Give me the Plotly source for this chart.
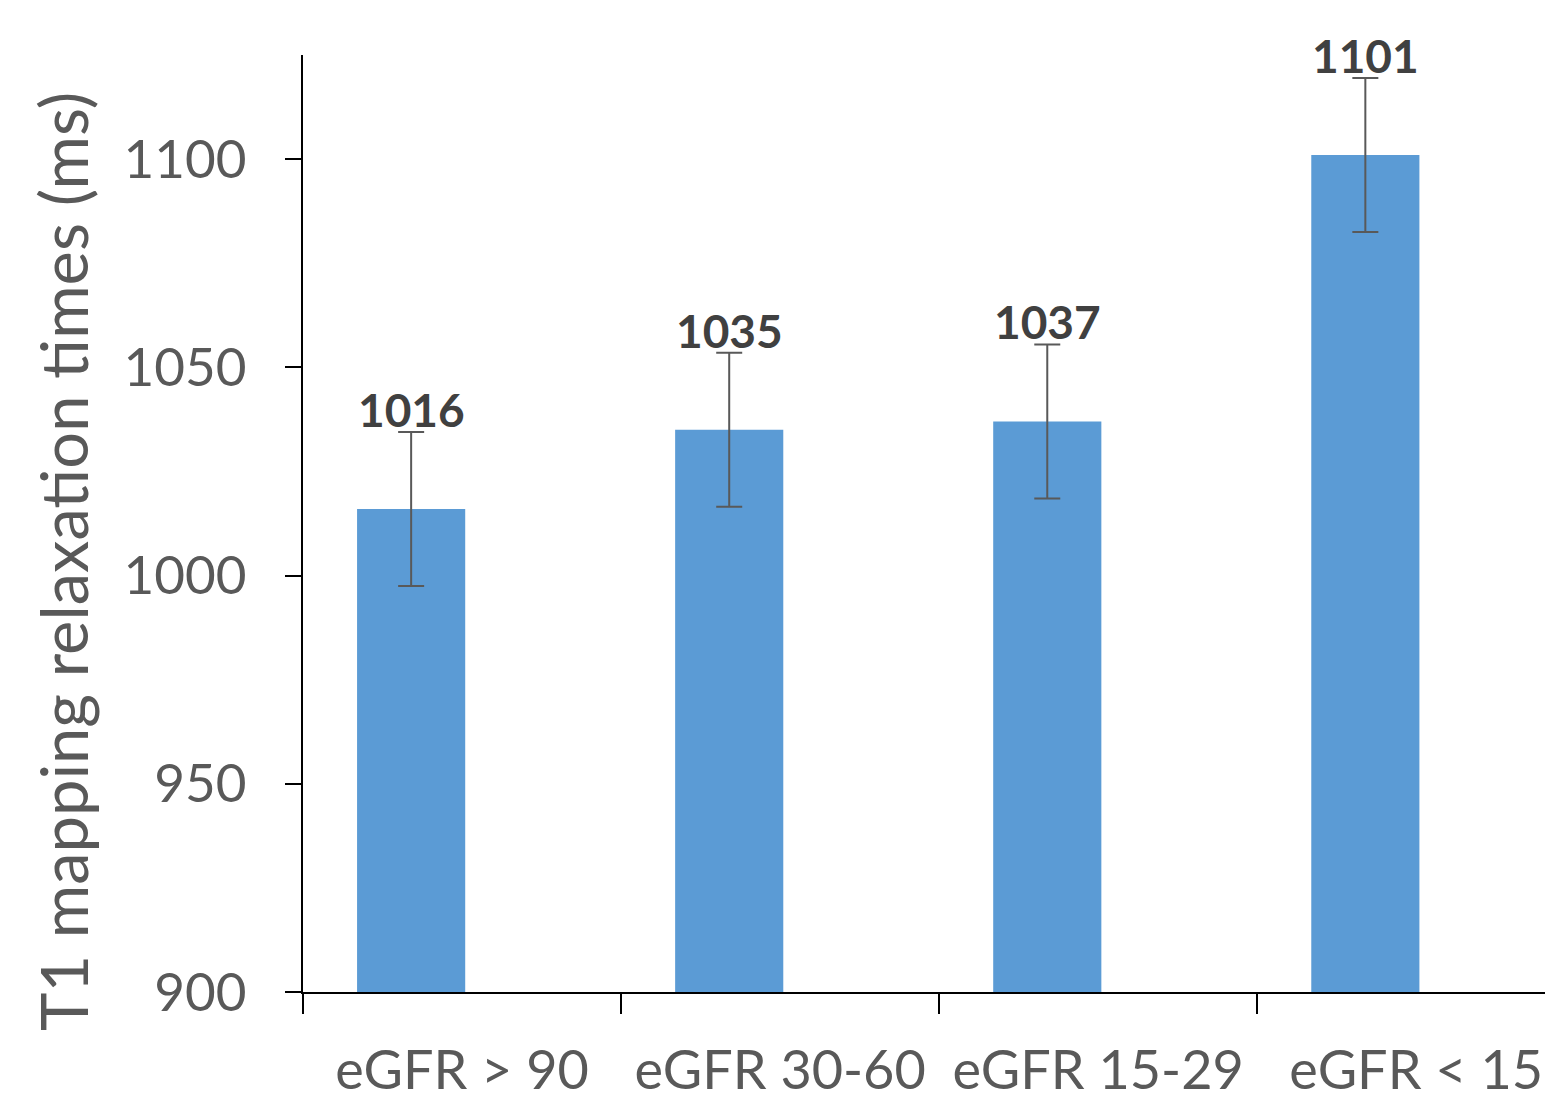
import plotly.graph_objects as go

categories = ["eGFR > 90", "eGFR 30-60", "eGFR 15-29", "eGFR < 15"]
values = [1016, 1035, 1037, 1101]
errors = [18.5, 18.5, 18.5, 18.5]
y_ticks = [900, 950, 1000, 1050, 1100]

BAR_WIDTH = 0.34
BAR_OFFSET = -0.33          # bar left edge relative to category centre
X_RANGE = [-0.5, 3.43]
PLOT_W = 1250
PX_PER_CAT = PLOT_W / (X_RANGE[1] - X_RANGE[0])
label_shift = (BAR_OFFSET + BAR_WIDTH / 2) * PX_PER_CAT

fig = go.Figure()
fig.add_trace(go.Bar(
    x=categories, y=values, width=BAR_WIDTH, offset=BAR_OFFSET,
    marker=dict(color="#5B9BD5", line=dict(width=0)),
    error_y=dict(type="data", array=errors, visible=True,
                 color="#595959", thickness=2, width=13),
))

for c, v, e in zip(categories, values, errors):
    fig.add_annotation(x=c, y=v + e, text=str(v), showarrow=False,
                       yanchor="bottom", yshift=-7, xshift=label_shift,
                       font=dict(family="Lato", size=46, color="#404040", weight="bold"))

fig.add_annotation(xref="paper", yref="paper", x=-0.188, y=0.459, xshift=-5,
                   text="T1 mapping relaxation times (ms)", textangle=-90,
                   showarrow=False, xanchor="center", yanchor="middle",
                   font=dict(family="Lato", size=65, color="#595959"))

fig.update_layout(
    width=1545, height=1087,
    margin=dict(l=295, r=0, t=47, b=103),
    plot_bgcolor="white", paper_bgcolor="white",
    showlegend=False,
    font=dict(family="Lato", color="#595959"),
)
fig.update_xaxes(
    range=X_RANGE, tickson="boundaries", ticks="outside", ticklen=20,
    tickcolor="#000000", tickwidth=2,
    showline=True, linecolor="#000000", linewidth=2,
    tickfont=dict(size=54, color="#595959"), showgrid=False,
    ticklabelstandoff=30, automargin=False,
)
fig.update_yaxes(
    range=[900, 1125], tickvals=y_ticks, ticks="outside", ticklen=16,
    tickcolor="#000000", tickwidth=2,
    showline=True, linecolor="#000000", linewidth=2,
    tickfont=dict(size=53, color="#595959"), showgrid=False, zeroline=False,
    ticklabelstandoff=28, automargin=False,
)

fig.write_html("out.html")
